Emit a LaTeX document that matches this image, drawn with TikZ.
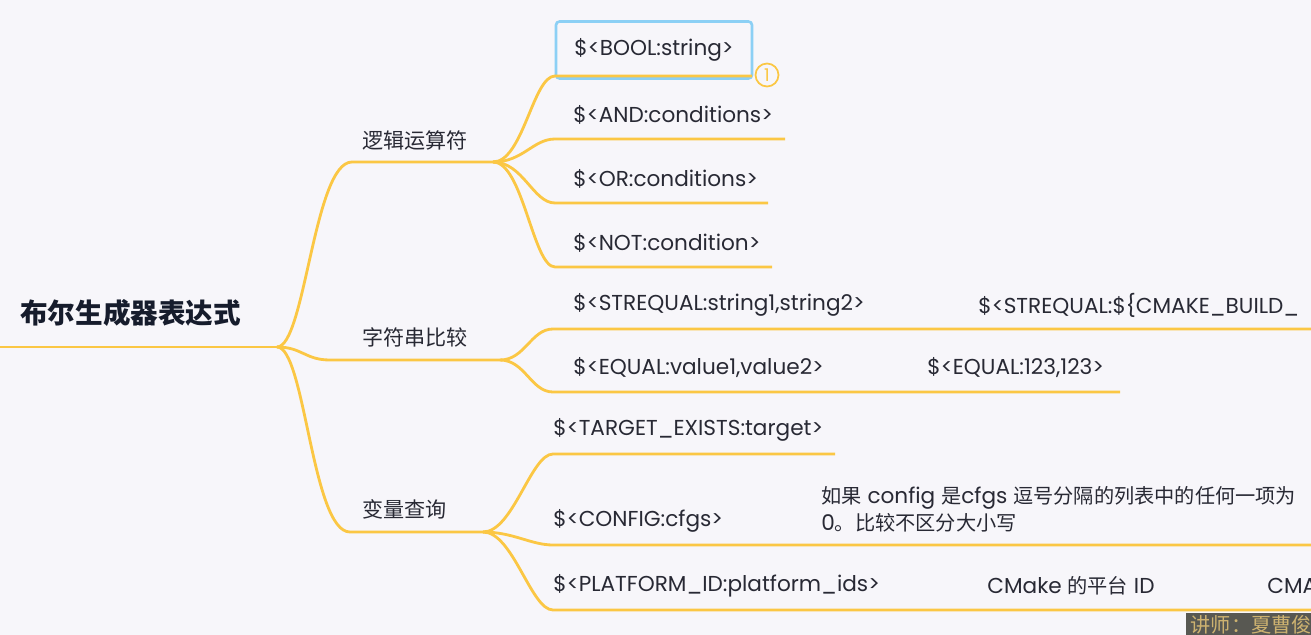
\documentclass[tikz,border=0pt]{standalone}
\usepackage{fontspec}
\setmainfont{Poppins}
\newfontfamily\cjk{Noto Sans CJK SC}

\definecolor{bg}{RGB}{247,246,250}
\definecolor{mmyellow}{RGB}{251,199,68}
\definecolor{leafgray}{RGB}{40,41,52}
\definecolor{rootcol}{RGB}{22,28,44}
\definecolor{boolblue}{RGB}{140,208,245}
\definecolor{wmgray}{RGB}{88,88,82}
\definecolor{wmtan}{RGB}{205,178,112}

\begin{document}
\begin{tikzpicture}[x=0.02cm,y=-0.02cm,
    branch/.style={draw=mmyellow,line width=1.6pt},
    leaf/.style={anchor=west,inner sep=0pt,text=leafgray,font=\fontsize{12.3}{14}\selectfont},
    topic/.style={anchor=west,inner sep=0pt,text=leafgray,font=\cjk\fontsize{12}{14}\selectfont}]
    \useasboundingbox (0,0) rectangle (1311,635);
    \fill[bg] (0,0) rectangle (1311,635);
    \clip (0,0) rectangle (1311,635);

    \coordinate (start) at (0,347);
    \coordinate (root) at (277,347);
    \node[anchor=west,inner sep=0pt,text=rootcol,font=\cjk\bfseries\fontsize{15.7}{18}\selectfont] (title) at (20,313) {布尔生成器表达式};

    \coordinate (logic) at (352,162);  \coordinate (logic-e) at (493,162);
    \coordinate (strcmp) at (330,360); \coordinate (strcmp-e) at (500,360);
    \coordinate (query) at (350,532);  \coordinate (query-e) at (483,532);

    \draw[branch] (start) -- (root);
    \draw[branch] (root) .. controls +(28,0) and +(-38,0) .. (logic) -- (logic-e);
    \draw[branch] (root) .. controls +(25,0) and +(-25,0) .. (strcmp) -- (strcmp-e);
    \draw[branch] (root) .. controls +(28,0) and +(-38,0) .. (query) -- (query-e);

    \node[topic] (logic-l) at (362,140) {逻辑运算符};
    \node[topic] (strcmp-l) at (362,337) {字符串比较};
    \node[topic] (query-l) at (362,509) {变量查询};

    \node[draw=boolblue,line width=1.5pt,rounded corners=2pt,minimum width=3.92cm,minimum height=1.14cm,
        inner sep=0pt,text=leafgray,font=\fontsize{12.3}{14}\selectfont] (bool) at (654,50) {\$<BOOL:string>};
    \node[circle,draw=mmyellow,line width=1pt,minimum size=0.46cm,inner sep=0pt,text=mmyellow,
        font=\fontsize{10}{11}\selectfont] (mark) at (767,75) {1};

    \foreach \n/\y/\xe/\t in {bool/76/752/{},and/139/785/{\$<AND:conditions>},
        or/203/768/{\$<OR:conditions>},not/267/772/{\$<NOT:condition>}} {
        \coordinate (\n-s) at (555,\y); \coordinate (\n-e) at (\xe,\y);
        \draw[branch] (logic-e) .. controls +(30,0) and +(-22,0) .. (\n-s) -- (\n-e);
        \node[leaf] (\n) at (573,\y-24) {\t};
    }

    \foreach \n/\y/\xe/\t in {strequal/329/1311/{\$<STREQUAL:string1,string2>},
        equal/392/1120/{\$<EQUAL:value1,value2>}} {
        \coordinate (\n-s) at (553,\y); \coordinate (\n-e) at (\xe,\y);
        \draw[branch] (strcmp-e) .. controls +(25,0) and +(-22,0) .. (\n-s) -- (\n-e);
        \node[leaf] (\n) at (573,\y-24) {\t};
    }

    \foreach \n/\y/\xe/\t in {target/454/835/{\$<TARGET\_EXISTS:target>},
        config/545/1311/{\$<CONFIG:cfgs>},platform/610/1311/{\$<PLATFORM\_ID:platform\_ids>}} {
        \coordinate (\n-s) at (553,\y); \coordinate (\n-e) at (\xe,\y);
        \draw[branch] (query-e) .. controls +(30,0) and +(-22,0) .. (\n-s) -- (\n-e);
        \node[leaf] (\n) at (553,\y-24) {\t};
    }

    \node[leaf] (strequal-ex) at (978,305) {\$<STREQUAL:\$\{CMAKE\_BUILD\_};
    \node[leaf] (equal-ex) at (927,368) {\$<EQUAL:123,123>};
    \node[leaf,align=left,font=\fontsize{12.3}{15.4}\selectfont] (config-desc) at (821,509)
        {{\cjk\fontsize{11.5}{15.4}\selectfont 如果} config {\cjk\fontsize{11.5}{15.4}\selectfont 是}cfgs
         {\cjk\fontsize{11.5}{15.4}\selectfont 逗号分隔的列表中的任何一项为}\\0{\cjk\fontsize{11.5}{15.4}\selectfont 。比较不区分大小写}};
    \node[leaf] (platform-id) at (987,586) {CMake {\cjk\fontsize{11.5}{14}\selectfont 的平台} ID};
    \node[leaf] (platform-cma) at (1267,586) {CMA};

    \node[anchor=north west,fill=wmgray,text=wmtan,inner sep=0pt,minimum width=2.6cm,minimum height=0.46cm,
        font=\cjk\fontsize{11.5}{12}\selectfont] (tutor) at (1186,613) {讲师：夏曹俊};
\end{tikzpicture}
\end{document}
